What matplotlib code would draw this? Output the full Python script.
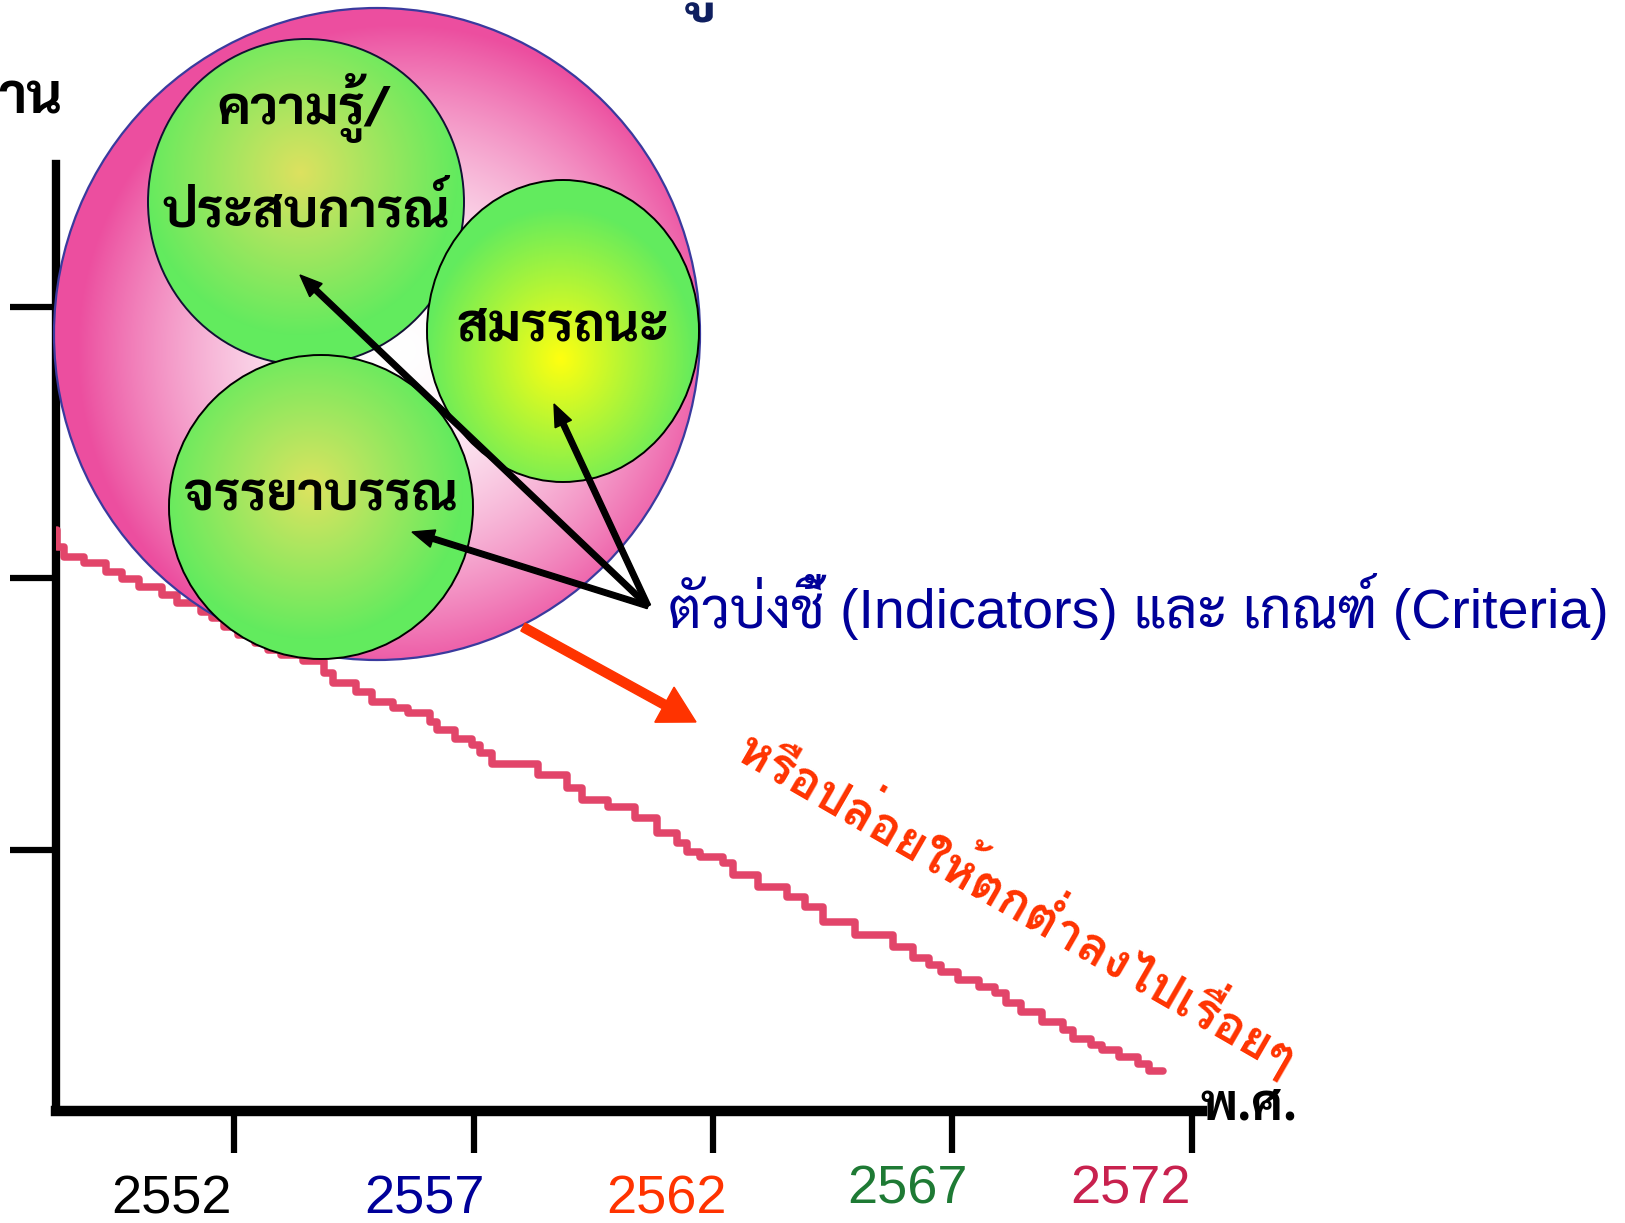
import numpy as np
import matplotlib
matplotlib.use("Agg")
import matplotlib.pyplot as plt
from matplotlib import font_manager
from matplotlib.ft2font import FT2Font
from matplotlib.patches import Ellipse, FancyArrow, PathPatch
from matplotlib.textpath import TextPath
from matplotlib.transforms import Affine2D

# ---- data ----
tick_years = [2552, 2557, 2562, 2567, 2572]
tick_colors = ["#000000", "#000099", "#FF3300", "#1E7A34", "#C8214E"]
y_ticks = [25, 50, 75]

# staircase line (year, level)
years = [2548.31, 2548.31, 2548.45, 2548.87, 2549.33, 2549.66, 2550.02, 2550.50,
         2550.81, 2551.31, 2551.54, 2551.79, 2552.08, 2552.44, 2552.71, 2552.98,
         2553.44, 2553.88, 2554.07, 2554.55, 2554.88, 2555.32, 2555.63, 2556.09,
         2556.24, 2556.61, 2556.97, 2557.14, 2557.39, 2558.35, 2558.95, 2559.27,
         2559.81, 2560.37, 2560.83, 2561.25, 2561.46, 2561.73, 2562.21, 2562.42,
         2562.94, 2563.54, 2563.92, 2564.30, 2564.96, 2565.76, 2566.18, 2566.51,
         2566.76, 2567.11, 2567.55, 2567.89, 2568.12, 2568.43, 2568.87, 2569.31,
         2569.52, 2569.89, 2570.12, 2570.48, 2570.87, 2571.10, 2571.39]
levels = [54.45, 52.88, 51.96, 51.41, 50.58, 49.94, 49.20, 48.46,
          47.73, 46.90, 46.34, 45.52, 44.78, 44.04, 43.40, 42.94,
          42.39, 41.28, 40.36, 39.53, 38.61, 38.06, 37.60, 36.77,
          36.03, 35.20, 34.65, 33.91, 32.90, 31.89, 30.69, 29.59,
          28.94, 27.93, 26.55, 25.63, 24.80, 24.34, 23.78, 22.68,
          21.57, 20.65, 19.73, 18.35, 17.15, 16.05, 15.04, 14.39,
          13.75, 13.01, 12.37, 11.81, 10.89, 10.06, 9.14, 8.41,
          7.58, 7.03, 6.57, 5.92, 5.28, 4.63, 4.63]

circle_labels = ["ความรู้/\nประสบการณ์", "สมรรถนะ", "จรรยาบรรณ"]
indicator_text = "ตัวบ่งชี้ (Indicators) และ เกณฑ์ (Criteria)"
fall_text = "หรือปล่อยให้ตกต่ำลงไปเรื่อยๆ"
x_label = "พ.ศ."
y_label = "าน"
title = "ความรู้ของวิชาชีพ"


# ---- fonts with Thai glyphs ----
def has_thai(path):
    try:
        return 0x0E01 in FT2Font(path).get_charmap()
    except Exception:
        return False


def pick(prefs, bold):
    for p in prefs:
        for f in font_manager.fontManager.ttflist:
            w = f.weight if isinstance(f.weight, int) else (700 if f.weight == "bold" else 400)
            if f.name == p and (w >= 700 or not bold) and has_thai(f.fname):
                return p
    return "DejaVu Sans"


thai_bold = pick(["Noto Sans Thai Looped", "Sarabun", "Krub", "Loma", "Noto Sans Thai"], True)
thai_red = pick(["Loma", "Noto Sans Thai Looped", "Sarabun", "Noto Sans Thai"], True)
TB = [thai_bold, "DejaVu Sans"]
TR = [thai_red, "DejaVu Sans"]
LAT_TH = ["Liberation Sans", thai_bold, "DejaVu Sans"]

W, H = 1625, 1223
fig = plt.figure(figsize=(W / 100, H / 100), dpi=100)

# ---- main chart axes ----
ax = fig.add_axes([56 / W, 1 - 1111 / H, (1202 - 56) / W, (1111 - 164) / H], zorder=1)
ax.patch.set_alpha(0)
ax.plot(years, levels, drawstyle="steps-post", color="#E2456A", lw=5.4,
        solid_joinstyle="round", solid_capstyle="round", zorder=3)
ax.set_xlim(2548.28, 2572.21)
ax.set_ylim(0.95, 88.15)
for s in ["top", "right"]:
    ax.spines[s].set_visible(False)
ax.spines["left"].set_linewidth(6)
ax.spines["bottom"].set_linewidth(7.5)
ax.set_xticks(tick_years)
ax.set_xticklabels([])
ax.set_yticks(y_ticks)
ax.set_yticklabels([])
ax.tick_params(axis="x", direction="out", length=30, width=4.5)
ax.tick_params(axis="y", direction="out", length=33, width=4.5)
label_dx = [-63, -49, -47, -45, -61]
label_dy = [-89, -89, -89, -79, -79]
for yr, c, dx, dy in zip(tick_years, tick_colors, label_dx, label_dy):
    ax.annotate(str(yr), xy=(yr, 0), xycoords=("data", "axes fraction"),
                xytext=(dx, dy), textcoords="offset pixels", ha="center",
                va="center", fontsize=39, color=c, family="Liberation Sans")

# ---- overlay in pixel coordinates ----
ov = fig.add_axes([0, 0, 1, 1], zorder=2)
ov.patch.set_alpha(0)
ov.axis("off")


def gradient_disc(cx, cy, rx, ry, fx, fy, c_in, c_out, power, edge, lw, z):
    x0, x1 = cx - rx - 3, cx + rx + 3
    y0, y1 = cy - ry - 3, cy + ry + 3
    X, Y = np.meshgrid(np.arange(x0, x1), np.arange(y0, y1))
    d = np.hypot((X - fx) / rx, (Y - fy) / ry)
    t = np.clip(d, 0, 1) ** power
    c_in = np.array(matplotlib.colors.to_rgb(c_in))
    c_out = np.array(matplotlib.colors.to_rgb(c_out))
    img = c_in * (1 - t[..., None]) + c_out * t[..., None]
    im = ov.imshow(img, extent=(x0, x1, y1, y0), origin="upper", zorder=z,
                   interpolation="bilinear")
    clip = Ellipse((cx, cy), 2 * rx, 2 * ry, transform=ov.transData)
    im.set_clip_path(clip)
    ov.add_patch(Ellipse((cx, cy), 2 * rx, 2 * ry, fill=False, ec=edge, lw=lw,
                         zorder=z + 0.1))


gradient_disc(377, 334, 323, 326, 400, 350, "#FFFFFF", "#EC4E9F", 1.7, "#3A3A9E", 1.6, 3)
gradient_disc(306, 202, 158, 163, 300, 172, "#DDE160", "#62EB5E", 1.0, "#111133", 1.4, 4)
gradient_disc(321, 507, 152, 152, 311, 487, "#DDE360", "#62EB5E", 1.0, "#000000", 1.4, 5)
gradient_disc(563, 331, 136, 151, 560, 358, "#FFFF10", "#62EB5E", 1.0, "#000000", 1.4, 6)

line1, line2 = circle_labels[0].split("\n")
ov.text(304, 108, line1, ha="center", va="center", fontsize=38,
        fontweight="bold", family=TB, zorder=8)
ov.text(306, 213, line2, ha="center", va="center", fontsize=38,
        fontweight="bold", family=TB, zorder=8)
ov.text(563, 327, circle_labels[1], ha="center", va="center", fontsize=38,
        fontweight="bold", family=TB, zorder=8)
ov.text(321, 497, circle_labels[2], ha="center", va="center", fontsize=38,
        fontweight="bold", family=TB, zorder=8)

# black pointer arrows
origin = (648, 606)
for tx, ty in [(300, 275), (554, 404), (412, 532)]:
    ov.add_patch(FancyArrow(origin[0], origin[1], tx - origin[0], ty - origin[1],
                            width=5.5, head_width=18, head_length=22,
                            length_includes_head=True, color="black", zorder=9))

ov.text(668, 606, indicator_text, ha="left", va="center", fontsize=40,
        color="#000099", family=LAT_TH, zorder=9)

# red arrow
ov.add_patch(FancyArrow(523, 627, 696 - 523, 722 - 627, width=9, head_width=40,
                        head_length=36, length_includes_head=True,
                        color="#FF3300", zorder=9))
ov.text(1020, 899, fall_text, ha="center", va="center", rotation=-30,
        rotation_mode="anchor", fontsize=36, fontweight="bold", color="#FF3300",
        family=TR, zorder=9)

ov.text(1200, 1107, x_label, ha="left", va="center", fontsize=36,
        fontweight="bold", family=TB, zorder=9)
ov.text(-2, 100, y_label, ha="left", va="center", fontsize=40,
        fontweight="bold", family=TB, zorder=9)

# title: mostly above the top edge, only its lower part shows
tp = TextPath((0, 0), title, size=70,
              prop=font_manager.FontProperties(family=TB, weight="bold"))
tw = tp.get_extents().width
ov.add_patch(PathPatch(tp, fc="#0F1F5F", ec="none", zorder=9,
                       transform=Affine2D().scale(1, -1).translate(784 - tw / 2, -2)
                       + ov.transData))

ov.set_aspect("auto")
ov.set_xlim(0, W)
ov.set_ylim(H, 0)
fig.savefig("out.png", dpi=100)
